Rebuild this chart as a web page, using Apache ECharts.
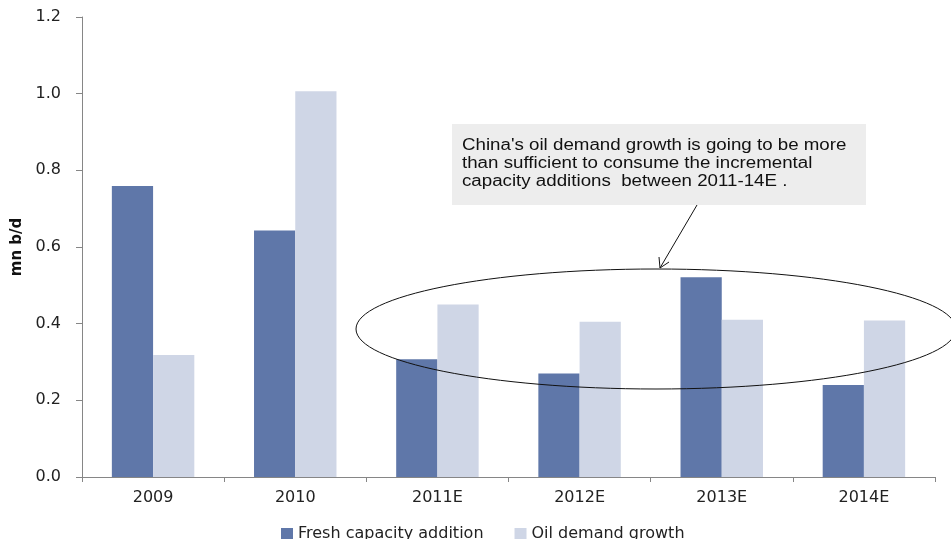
<!DOCTYPE html>
<html>
<head>
<meta charset="utf-8">
<script src="https://cdn.jsdelivr.net/npm/echarts@6/dist/echarts.min.js"></script>
<style>
  html, body { margin: 0; padding: 0; background: #fff; }
  #main { width: 951px; height: 539px; }
</style>
</head>
<body>
<div id="main"></div>
<script>
// chart data
var years = ['2009', '2010', '2011E', '2012E', '2013E', '2014E'];
var freshCapacity = [0.759, 0.643, 0.307, 0.270, 0.521, 0.240];
var oilDemand = [0.318, 1.006, 0.450, 0.405, 0.410, 0.408];
var seriesNames = ['Fresh capacity addition', 'Oil demand growth'];
var noteLines = [
  "China's oil demand growth is going to be more",
  'than sufficient to consume the incremental',
  'capacity additions  between 2011-14E .'
];

var font = 'DejaVu Sans, sans-serif';
var noteFont = 'Liberation Sans, Arial, sans-serif';
var myChart = echarts.init(document.getElementById('main'));

var option = {
  animation: false,
  textStyle: { fontFamily: font },
  grid: { left: 82, right: 16, top: 17, bottom: 62, containLabel: false },
  legend: {
    left: 281,
    top: 526,
    padding: 0,
    itemWidth: 12,
    itemHeight: 12,
    itemGap: 31,
    icon: 'rect',
    textStyle: { fontSize: 16, color: '#222', fontFamily: font },
    data: seriesNames
  },
  xAxis: {
    type: 'category',
    data: years,
    axisLine: { lineStyle: { color: '#868686', width: 1 } },
    axisTick: { show: true, length: 5, lineStyle: { color: '#868686' } },
    axisLabel: { fontSize: 16, color: '#222', margin: 13, fontFamily: font }
  },
  yAxis: {
    type: 'value',
    min: 0,
    max: 1.2,
    interval: 0.2,
    name: 'mn b/d',
    nameLocation: 'middle',
    nameGap: 56,
    nameTextStyle: { fontSize: 15, fontWeight: 'bold', color: '#111', fontFamily: font },
    splitLine: { show: false },
    axisLine: { show: true, lineStyle: { color: '#868686' } },
    axisTick: { show: true, length: 6, lineStyle: { color: '#868686' } },
    axisLabel: {
      fontSize: 16, color: '#222', margin: 21, fontFamily: font,
      formatter: function (v) { return v.toFixed(1); }
    }
  },
  series: [
    {
      name: seriesNames[0],
      type: 'bar',
      data: freshCapacity,
      barWidth: '29%',
      barGap: '0%',
      itemStyle: { color: '#5f77a9' }
    },
    {
      name: seriesNames[1],
      type: 'bar',
      data: oilDemand,
      barWidth: '29%',
      barGap: '0%',
      itemStyle: { color: '#cfd6e6' }
    }
  ],
  graphic: [
    {
      type: 'rect',
      shape: { x: 452, y: 124, width: 414, height: 81 },
      style: { fill: '#ededed' },
      z: 10
    },
    {
      type: 'text',
      x: 462, y: 137,
      scaleX: 1.17,
      style: {
        text: noteLines.join('\n'),
        font: '16px ' + noteFont,
        lineHeight: 18,
        fill: '#111'
      },
      z: 11
    },
    {
      type: 'ellipse',
      shape: { cx: 656, cy: 329, rx: 300, ry: 60 },
      style: { fill: 'none', stroke: '#111', lineWidth: 1 },
      z: 10
    },
    {
      type: 'line',
      shape: { x1: 697, y1: 205, x2: 660, y2: 268 },
      style: { stroke: '#111', lineWidth: 1 },
      z: 10
    },
    {
      type: 'polyline',
      shape: { points: [[659, 257], [660, 268], [669, 262]] },
      style: { stroke: '#111', lineWidth: 1, fill: 'none' },
      z: 10
    }
  ]
};

option && myChart.setOption(option);
</script>
</body>
</html>
